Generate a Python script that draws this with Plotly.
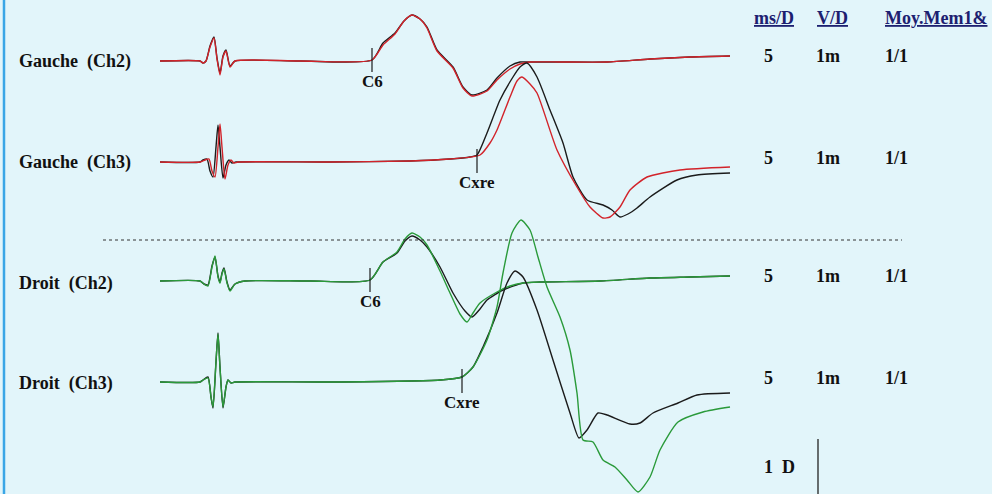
import plotly.graph_objects as go

# ---------------- Recorded potentials ----------------
# time in ms (5 ms/D), amplitude in µV (1 mV/D); positive = upward deflection

# Gauche (Ch2): black = run 1, red = run 2
g2_t_black = [0, 4.0, 4.3, 4.6, 5.0, 5.4, 5.7, 6.0, 6.3, 6.6, 7.0, 7.5, 14, 21.2, 22.3, 23.5, 24.4, 25.2,
              26.0, 26.7, 27.7, 29.3, 30.3, 31.2, 32.7, 33.7, 35.0, 36.0, 37.0, 40, 44.7, 49, 53, 57]
g2_a_black = [0, 0, -40, 0, 300, 480, 60, -240, 100, 220, -100, 0, 0, 20, 360, 560, 800, 920,
              840, 680, 220, -120, -520, -680, -580, -340, -100, -20, -20, -20, -20, 40, 80, 100]
g2_t_red = [0, 4.0, 4.3, 4.6, 5.0, 5.4, 5.7, 6.0, 6.3, 6.6, 7.0, 7.5, 14, 21.2, 22.3, 23.5, 24.4, 25.2,
            26.0, 26.7, 27.7, 29.3, 30.3, 31.2, 32.7, 33.7, 35.0, 36.0, 37.0, 40, 44.7, 49, 53, 57]
g2_a_red = [0, 0, -40, 0, 280, 460, 40, -280, 80, 200, -120, 0, 0, 20, 320, 540, 800, 920,
            840, 660, 200, -140, -540, -700, -600, -380, -160, -60, -20, -20, -20, 40, 80, 100]

# Gauche (Ch3)
g3_t_black = [0, 4.0, 4.3, 4.7, 5.0, 5.3, 5.6, 5.8, 6.0, 6.3, 6.6, 6.9, 7.2, 7.6, 17, 25, 29, 31, 31.7,
              32.7, 34.0, 35.3, 36.0, 36.7, 37.7, 39.0, 40.3, 41.3, 42.7, 44.3, 45.2, 46.0, 46.8, 47.7,
              49.0, 51.7, 53.7, 57.0]
g3_a_black = [0, 0, 40, 60, -180, -300, 300, 740, 300, -320, -60, 40, -20, 0, 0, 20, 60, 100, 140,
              580, 1240, 1700, 1900, 1980, 1700, 1040, 380, -300, -760, -860, -960, -1100, -1040, -920,
              -700, -360, -260, -220]
g3_t_red = [0, 4.0, 4.5, 4.9, 5.2, 5.5, 5.8, 6.0, 6.2, 6.5, 6.8, 7.1, 7.4, 7.8, 17, 25, 29, 32, 33,
            33.7, 35.0, 35.7, 36.2, 37.0, 37.7, 39.7, 41.7, 43.0, 44.3, 45.0, 46.0, 47.0, 48.7, 52.0, 57.0]
g3_a_red = [0, 0, 40, 60, -180, -300, 300, 760, 300, -340, -60, 40, -20, 0, 0, 20, 60, 140, 380,
            640, 1300, 1620, 1700, 1560, 1380, 240, -500, -900, -1120, -1100, -900, -560, -300, -160, -100]

# Droit (Ch2): black = run 1, green = run 2
d2_t_black = [0, 4.0, 4.4, 4.8, 5.2, 5.5, 5.8, 6.0, 6.2, 6.4, 6.7, 7.0, 7.5, 8.5, 15, 21.0, 22.3, 23.7,
              24.5, 25.2, 26.0, 26.7, 28.0, 29.3, 30.5, 31.2, 32.0, 32.7, 34.3, 36.3, 38.0, 44.0, 49.0,
              53.0, 57.0]
d2_a_black = [0, 0, -60, -80, 300, 480, 100, -20, 160, 260, -20, -180, -60, 0, 0, 20, 380, 560,
              800, 900, 820, 680, 280, -240, -600, -720, -560, -380, -180, -40, -20, 0, 60, 80, 100]
d2_t_green = [0, 4.0, 4.4, 4.8, 5.2, 5.5, 5.8, 6.0, 6.2, 6.4, 6.7, 7.0, 7.5, 8.5, 15, 21.0, 22.3, 23.7,
              24.5, 25.2, 26.0, 26.7, 28.0, 29.0, 30.0, 30.7, 31.3, 32.0, 33.7, 35.0, 36.3, 38.0, 44.0,
              49.0, 53.0, 57.0]
d2_a_green = [0, 0, -60, -100, 280, 500, 80, -40, 140, 240, -40, -200, -60, 0, 0, 20, 380, 580,
              840, 960, 880, 720, 200, -240, -660, -820, -640, -440, -220, -100, -40, -20, 0, 60, 80, 100]

# Droit (Ch3)
d3_t_black = [0, 4.0, 4.3, 4.8, 5.1, 5.3, 5.6, 5.8, 6.0, 6.3, 6.6, 6.8, 7.1, 7.5, 17, 28, 30.2, 31.3,
              32.3, 33.7, 34.7, 35.5, 36.3, 37.7, 39.3, 41.0, 41.9, 42.7, 43.8, 44.7, 47.0, 48.0, 49.3,
              51.8, 53.7, 57.0]
d3_a_black = [0, 0, 40, 100, -300, -520, 400, 980, 300, -520, -100, 40, -20, 0, 0, 40, 100, 300,
              700, 1380, 1980, 2220, 2100, 1440, 440, -620, -1120, -960, -620, -660, -840, -820, -620,
              -420, -260, -220]
d3_t_green = [0, 4.0, 4.3, 4.8, 5.1, 5.3, 5.6, 5.8, 6.0, 6.3, 6.6, 6.8, 7.1, 7.5, 17, 28, 30.2, 31.3,
              32.7, 33.7, 34.3, 35.2, 36.1, 37.0, 37.8, 38.7, 40.0, 41.0, 41.7, 42.3, 43.3, 44.3, 45.5,
              46.7, 47.8, 49.0, 50.0, 51.8, 54.3, 57.0]
d3_a_green = [0, 0, 40, 80, -300, -500, 420, 960, 280, -500, -100, 40, -20, 0, 0, 40, 100, 300,
              840, 1500, 2180, 2980, 3240, 3040, 2500, 1900, 1300, 640, -220, -1160, -1200, -1560, -1700,
              -1960, -2200, -1900, -1360, -800, -600, -500]

# Latency markers (ms) and their labels
marker_labels = ["C6", "Cxre", "C6", "Cxre"]
marker_times = [21.2, 31.7, 21.0, 30.2]

row_labels = ["Gauche  (Ch2)", "Gauche  (Ch3)", "Droit  (Ch2)", "Droit  (Ch3)"]
col_headers = ["ms/D", "V/D", "Moy.Mem1&"]
col_values = ["5", "1m", "1/1"]

# ---------------- Layout geometry ----------------
W, H = 992, 494
T_PER_PX = 0.1          # ms per pixel (5 ms/D, D = 50 px)
UV_PER_PX = 20.0        # µV per pixel (1 mV/D)
T0_PX = 160             # sweep start, px
row_base_px = [61, 162, 281, 382]   # baseline of each row, px from top

def offset(row):
    return -row_base_px[row] * UV_PER_PX

def px_x(p):
    return p / W

def px_y(p):
    return 1 - p / H

BLACK = "#1b1b1b"
RED = "#d2232a"
GREEN = "#2a9a3a"
BG = "#e2f5fa"
FONT = "Liberation Serif"

fig = go.Figure()

series = [
    (0, g2_t_black, g2_a_black, BLACK), (0, g2_t_red, g2_a_red, RED),
    (1, g3_t_black, g3_a_black, BLACK), (1, g3_t_red, g3_a_red, RED),
    (2, d2_t_black, d2_a_black, BLACK), (2, d2_t_green, d2_a_green, GREEN),
    (3, d3_t_black, d3_a_black, BLACK), (3, d3_t_green, d3_a_green, GREEN),
]
for row, t, a, col in series:
    fig.add_trace(go.Scatter(
        x=t, y=[v + offset(row) for v in a], mode="lines",
        line=dict(color=col, width=1.4, shape="spline", smoothing=0.6),
        hoverinfo="skip", showlegend=False))

# latency ticks
for row, (lab, tm) in enumerate(zip(marker_labels, marker_times)):
    y0 = offset(row)
    fig.add_shape(type="line", x0=tm, x1=tm, y0=y0 + 13 * UV_PER_PX, y1=y0 - 11 * UV_PER_PX,
                  line=dict(color=BLACK, width=1.2))
    fig.add_annotation(x=tm, y=y0 - 20 * UV_PER_PX, text="<b>%s</b>" % lab, showarrow=False,
                       font=dict(family=FONT, size=17, color="#111"),
                       xanchor="center", yanchor="middle")

# channel names
label_y = [61, 162, 283, 383]
for lab, yy in zip(row_labels, label_y):
    fig.add_annotation(xref="paper", yref="paper", x=px_x(17), y=px_y(yy), text="<b>%s</b>" % lab,
                       showarrow=False, xanchor="left", yanchor="middle",
                       font=dict(family=FONT, size=18, color="#111"))

# settings table
col_x = [774, 832, 936]
for h, cx in zip(col_headers, col_x):
    fig.add_annotation(xref="paper", yref="paper", x=px_x(cx), y=px_y(18), text="<b><u>%s</u></b>" % h,
                       showarrow=False, xanchor="center", yanchor="middle",
                       font=dict(family=FONT, size=18, color="#1c2070"))
val_x = [768, 828, 896]
for yy in [56, 158, 276, 378]:
    for v, cx in zip(col_values, val_x):
        fig.add_annotation(xref="paper", yref="paper", x=px_x(cx), y=px_y(yy), text="<b>%s</b>" % v,
                           showarrow=False, xanchor="center", yanchor="middle",
                           font=dict(family=FONT, size=18, color="#111"))

# separator between sides
fig.add_shape(type="line", xref="paper", yref="paper", x0=px_x(103), x1=px_x(902),
              y0=px_y(240), y1=px_y(240), line=dict(color="#333", width=1, dash="dot"))

# 1 D calibration bar
fig.add_annotation(xref="paper", yref="paper", x=px_x(779), y=px_y(467), text="<b>1  D</b>",
                   showarrow=False, xanchor="center", yanchor="middle",
                   font=dict(family=FONT, size=18, color="#111"))
fig.add_shape(type="line", xref="paper", yref="paper", x0=px_x(818), x1=px_x(818),
              y0=px_y(439), y1=px_y(494), line=dict(color="#222", width=1.3))

# left page edge
fig.add_shape(type="line", xref="paper", yref="paper", x0=px_x(4), x1=px_x(4), y0=0, y1=1,
              line=dict(color="#3aa6e6", width=2.5))

fig.update_layout(
    width=W, height=H, margin=dict(l=0, r=0, t=0, b=0),
    paper_bgcolor=BG, plot_bgcolor=BG,
    xaxis=dict(range=[-T0_PX * T_PER_PX, (W - T0_PX) * T_PER_PX], visible=False, fixedrange=True),
    yaxis=dict(range=[-H * UV_PER_PX, 0], visible=False, fixedrange=True),
)

fig.write_html("out.html")
